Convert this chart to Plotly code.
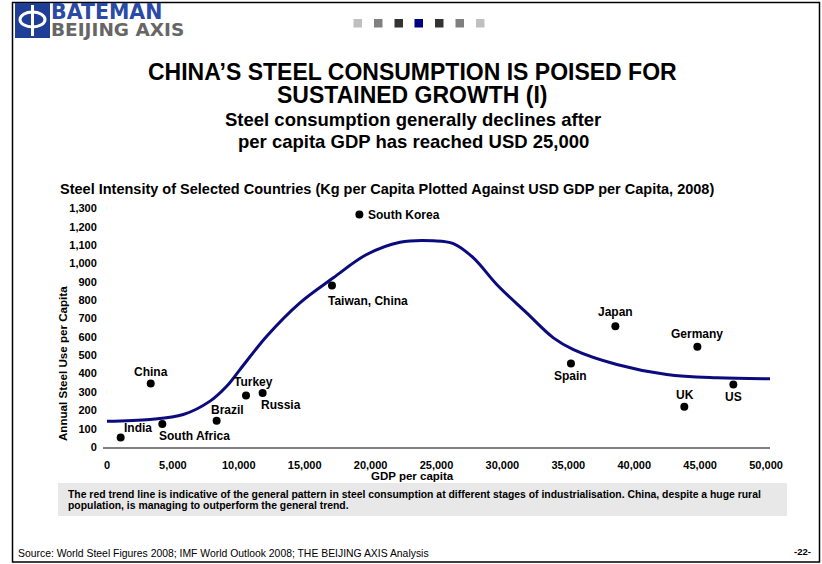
import plotly.graph_objects as go

# ---- data ----
countries = ["South Korea", "Taiwan, China", "China", "Turkey", "Russia", "Brazil",
             "South Africa", "India", "Japan", "Germany", "Spain", "UK", "US"]
gdp_per_capita = [19150, 17070, 3320, 10550, 11810, 8320, 4200, 1040,
                  38570, 44790, 35200, 43800, 47520]
steel_per_capita = [1267, 880, 346, 281, 295, 143, 126, 52, 658, 546, 455, 219, 340]

trend_gdp = [0, 3260, 5790, 7820, 9080, 10090, 12120, 14640, 17170, 19700, 22230,
             24760, 26280, 27800, 29570, 31840, 33870, 35390, 38680, 42470, 46270, 50300]
trend_steel = [140, 150, 177, 250, 331, 422, 604, 786, 922, 1049, 1116,
               1124, 1109, 1031, 886, 731, 595, 531, 450, 395, 377, 372]

x_ticks = list(range(0, 50001, 5000))
y_ticks = list(range(0, 1301, 100))

# label placement (pixel offsets, style only)
label_style = {
    "South Korea": dict(xanchor="left", xshift=7, yshift=0),
    "Taiwan, China": dict(xanchor="left", xshift=-6, yshift=-15),
    "China": dict(xanchor="center", xshift=0, yshift=12),
    "Turkey": dict(xanchor="center", xshift=7, yshift=13),
    "Russia": dict(xanchor="left", xshift=-4, yshift=-12),
    "Brazil": dict(xanchor="left", xshift=-8, yshift=11),
    "South Africa": dict(xanchor="left", xshift=-5, yshift=-12),
    "India": dict(xanchor="left", xshift=1, yshift=9),
    "Japan": dict(xanchor="center", xshift=0, yshift=14),
    "Germany": dict(xanchor="center", xshift=0, yshift=13),
    "Spain": dict(xanchor="center", xshift=0, yshift=-12),
    "UK": dict(xanchor="center", xshift=1, yshift=12),
    "US": dict(xanchor="center", xshift=0, yshift=-12),
}

W, H = 822, 564
L, R, T, B = 103, 770, 205, 447


def px(x):
    return (x - L) / (R - L)


def py(y):
    return (B - y) / (B - T)


FONT = "Liberation Sans, Arial, sans-serif"
NARROW = "Liberation Sans Narrow, Arial Narrow, Liberation Sans, sans-serif"

fig = go.Figure()
fig.add_trace(go.Scatter(x=trend_gdp, y=trend_steel, mode="lines",
                         line=dict(color="#0b0b7e", width=3, shape="spline", smoothing=1.0),
                         hoverinfo="skip", showlegend=False))
fig.add_trace(go.Scatter(x=gdp_per_capita, y=steel_per_capita, mode="markers",
                         marker=dict(color="black", size=8), text=countries,
                         showlegend=False))

annotations = []
for name, gx, sy in zip(countries, gdp_per_capita, steel_per_capita):
    st = label_style[name]
    annotations.append(dict(x=gx, y=sy, xref="x", yref="y", text="<b>%s</b>" % name,
                            showarrow=False, font=dict(family=FONT, size=12, color="black"),
                            xanchor=st["xanchor"], yanchor="middle",
                            xshift=st["xshift"], yshift=st["yshift"]))


def ptext(text, x, y, size, color="black", bold=True, xanchor="center", family=FONT, angle=0):
    t = "<b>%s</b>" % text if bold else text
    annotations.append(dict(x=px(x), y=py(y), xref="paper", yref="paper", text=t,
                            showarrow=False, xanchor=xanchor, yanchor="middle",
                            font=dict(family=family, size=size, color=color), textangle=angle))


# titles
ptext("CHINA’S STEEL CONSUMPTION IS POISED FOR", 412, 72, 23)
ptext("SUSTAINED GROWTH (I)", 412, 95, 23)
ptext("Steel consumption generally declines after", 413, 119, 18.5)
ptext("per capita GDP has reached USD 25,000", 413, 141, 18.5)
ptext("Steel Intensity of Selected Countries (Kg per Capita Plotted Against USD GDP per Capita, 2008)",
      58, 189, 14.5, xanchor="left")
ptext("Annual Steel Use per Capita", 62, 364, 11.6, angle=-90)
ptext("GDP per capita", 412, 476, 11.5)
ptext("The red trend line is indicative of the general pattern in steel consumption at different stages of industrialisation. China, despite a huge rural",
      66, 494, 10.4, xanchor="left", family=NARROW)
ptext("population, is managing to outperform the general trend.", 66, 505.5, 10.4, xanchor="left", family=NARROW)
ptext("Source: World Steel Figures 2008; IMF World Outlook 2008; THE BEIJING AXIS Analysis",
      16, 553, 10.4, bold=False, xanchor="left", family=NARROW)
ptext("-22-", 813, 551, 9.5, xanchor="right")
# logo text
ptext("BATEMAN", 49, 12, 20.5, color="#2a4aa5", xanchor="left", family="DejaVu Sans, sans-serif")
ptext("BEIJING AXIS", 49, 29.5, 18.5, color="#666666", xanchor="left", family="DejaVu Sans, sans-serif")

shapes = []


def prect(x0, y0, x1, y1, fill=None, line=None, lw=0):
    shapes.append(dict(type="rect", xref="paper", yref="paper", x0=px(x0), x1=px(x1),
                       y0=py(y1), y1=py(y0), fillcolor=fill or "rgba(0,0,0,0)",
                       line=dict(color=line or "rgba(0,0,0,0)", width=lw), layer="below"))


# frame
prect(12.5, 2.5, 819.5, 562, line="black", lw=1.5)
# note box
prect(58, 483, 787, 516, fill="#e8e8e8")
# logo block
prect(15, 3, 50, 38, fill="#1f3f96")
shapes.append(dict(type="circle", xref="paper", yref="paper", x0=px(20), x1=px(45),
                   y0=py(27), y1=py(12), line=dict(color="white", width=3)))
shapes.append(dict(type="line", xref="paper", yref="paper", x0=px(32.5), x1=px(32.5),
                   y0=py(36), y1=py(5), line=dict(color="white", width=3)))
# squares
sq_colors = ["#c0c0c0", "#808080", "#333333", "#000080", "#333333", "#808080", "#c0c0c0"]
sq_left = [353.5, 374, 394.5, 414.5, 435, 455.5, 476]
for c, xl in zip(sq_colors, sq_left):
    prect(xl, 19, xl + 8.5, 27.5, fill=c)

fig.update_layout(
    width=W, height=H,
    margin=dict(l=L, r=W - R, t=T, b=H - B),
    paper_bgcolor="white", plot_bgcolor="white",
    showlegend=False,
    xaxis=dict(range=[-300, 50300], tickvals=x_ticks, tickformat=",d", showgrid=False,
               zeroline=False, showline=True, linecolor="#808080", linewidth=2,
               ticks="outside", ticklen=7, tickcolor="rgba(0,0,0,0)",
               tickfont=dict(family=FONT, size=11, color="black", weight="bold")),
    yaxis=dict(range=[0, 1319], tickvals=y_ticks, tickformat=",d", showgrid=False,
               zeroline=False, showline=False, ticks="outside", ticklen=3,
               tickcolor="rgba(0,0,0,0)",
               tickfont=dict(family=FONT, size=11, color="black", weight="bold")),
    annotations=annotations, shapes=shapes,
    font=dict(family=FONT),
)

fig.write_html("out.html", config={"displayModeBar": False},
               post_script="document.body.style.margin='0px';document.body.style.overflow='hidden';")
